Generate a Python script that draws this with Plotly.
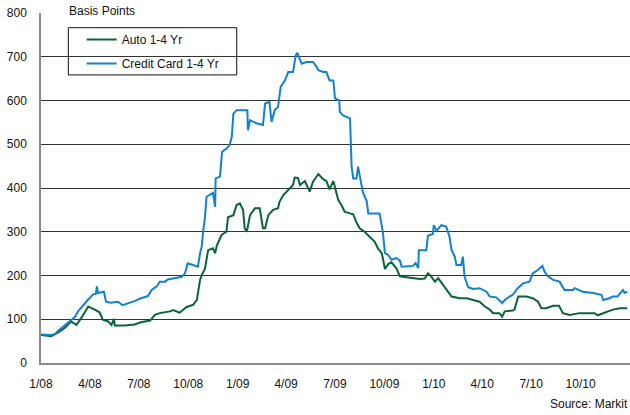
import pandas as pd
import plotly.graph_objects as go

START = "2008-01-01"

# Credit Card 1-4 Yr spread (basis points), days since START
cc_days = [0, 19, 26, 32, 45, 56, 63, 69, 78, 87, 97, 102, 104, 106, 117, 121, 130, 143, 152, 162,
           175, 186, 199, 206, 216, 221, 231, 236, 249, 262, 268, 273, 283, 292, 296, 299, 302, 305,
           308, 314, 320, 324, 325, 333, 337, 345, 351, 355, 358, 364, 376, 384, 385, 389, 401, 413,
           417, 425, 429, 435, 441, 446, 454, 460, 469, 474, 477, 485, 494, 506, 513, 516, 525, 531,
           537, 544, 547, 555, 556, 562, 575, 576, 578, 581, 587, 590, 593, 599, 606, 609, 630, 636,
           640, 646, 652, 661, 668, 671, 692, 697, 702, 703, 717, 720, 729, 731, 736, 745, 754, 760,
           764, 770, 773, 782, 785, 788, 795, 804, 816, 829, 835, 847, 858, 863, 872, 878, 887, 897,
           909, 915, 925, 933, 937, 943, 953, 965, 974, 990, 993, 1008, 1027, 1043, 1046, 1058, 1064,
           1073, 1083, 1086, 1091]
cc_vals = [65, 64, 66, 74, 87, 98, 105, 118, 132, 144, 157, 158, 175, 160, 163, 140, 138, 140, 132, 136,
           142, 148, 153, 167, 176, 186, 186, 191, 194, 197, 205, 228, 224, 220, 251, 266, 304, 331,
           380, 384, 389, 357, 422, 426, 483, 490, 498, 517, 570, 578, 578, 578, 532, 555, 548, 544,
           593, 597, 551, 578, 585, 631, 646, 665, 665, 703, 709, 684, 688, 688, 677, 669, 665, 665,
           646, 646, 605, 600, 574, 566, 559, 502, 449, 422, 422, 449, 426, 390, 370, 342, 342, 300,
           251, 247, 236, 240, 234, 220, 222, 228, 217, 258, 258, 291, 295, 315, 302, 315, 312, 289,
           258, 243, 224, 224, 243, 198, 173, 169, 171, 163, 152, 150, 137, 144, 152, 156, 171, 182,
           186, 205, 213, 222, 209, 198, 190, 186, 167, 167, 171, 163, 160, 156, 144, 148, 152,
           152, 167, 160, 163]

# Auto 1-4 Yr spread (basis points), days since START
auto_days = [0, 19, 32, 44, 56, 66, 75, 84, 88, 100, 109, 115, 125, 131, 136, 137, 156, 174, 186, 203,
             212, 221, 240, 246, 258, 271, 283, 290, 296, 299, 305, 311, 320, 324, 327, 336, 345, 348,
             358, 364, 370, 376, 379, 383, 389, 398, 407, 413, 417, 423, 432, 441, 444, 451, 460, 469,
             472, 478, 482, 491, 500, 506, 516, 525, 531, 537, 544, 550, 553, 559, 565, 575, 581, 587,
             593, 602, 612, 621, 627, 634, 636, 640, 646, 652, 661, 668, 680, 695, 705, 714, 720, 726,
             733, 739, 748, 754, 764, 779, 792, 804, 816, 826, 835, 841, 853, 858, 863, 878, 881, 888,
             903, 915, 925, 931, 940, 953, 964, 971, 984, 1002, 1021, 1030, 1036, 1046, 1064, 1077, 1091]
auto_vals = [64, 61, 70, 80, 95, 87, 103, 122, 129, 122, 116, 99, 95, 87, 101, 86, 86, 88, 93, 97,
             110, 114, 118, 121, 115, 128, 133, 144, 190, 201, 215, 258, 262, 251, 268, 293, 300, 333,
             338, 361, 365, 350, 308, 300, 338, 354, 354, 308, 308, 338, 350, 354, 369, 384, 395, 407,
             424, 423, 407, 416, 392, 414, 432, 420, 416, 397, 416, 390, 373, 361, 346, 342, 340, 321,
             308, 300, 289, 277, 262, 251, 240, 215, 226, 230, 217, 198, 196, 194, 192, 193, 205, 198,
             186, 194, 179, 171, 152, 148, 148, 144, 140, 129, 122, 114, 114, 106, 118, 120, 122, 152,
             152, 148, 140, 125, 125, 131, 131, 114, 110, 114, 114, 114, 109, 114, 122, 125, 125]

tick_dates = ["2008-01-01", "2008-04-01", "2008-07-01", "2008-10-01", "2009-01-01", "2009-04-01",
              "2009-07-01", "2009-10-01", "2010-01-01", "2010-04-01", "2010-07-01", "2010-10-01"]
tick_labels = ["1/08", "4/08", "7/08", "10/08", "1/09", "4/09", "7/09", "10/09", "1/10", "4/10",
               "7/10", "10/10"]
y_ticks = [0, 100, 200, 300, 400, 500, 600, 700, 800]

start = pd.Timestamp(START)
auto_x = start + pd.to_timedelta(auto_days, unit="D")
cc_x = start + pd.to_timedelta(cc_days, unit="D")

GREEN = "#0A643A"
BLUE = "#1282CE"
FONT = "Liberation Sans, Arial, sans-serif"

fig = go.Figure()
fig.add_trace(go.Scatter(x=auto_x, y=auto_vals, mode="lines", name="Auto 1-4 Yr",
                         line=dict(color=GREEN, width=2), legendgroup="a"))
fig.add_trace(go.Scatter(x=cc_x, y=cc_vals, mode="lines", name="Credit Card 1-4 Yr",
                         line=dict(color=BLUE, width=2), legendgroup="b"))

fig.update_layout(
    width=630, height=415,
    margin=dict(l=41, r=0, t=13, b=52),
    paper_bgcolor="white", plot_bgcolor="white",
    font=dict(family=FONT, size=12, color="#111111"),
    showlegend=True,
    legend=dict(x=0.069, y=0.966, xanchor="left", yanchor="top",
                bgcolor="rgba(0,0,0,0)", borderwidth=0,
                traceorder="grouped", tracegroupgap=5,
                font=dict(family=FONT, size=12, color="#111111")),
    xaxis=dict(type="date", range=["2008-01-01", "2011-01-01"],
               tickmode="array", tickvals=tick_dates, ticktext=tick_labels,
               showgrid=False, showline=True, linecolor="#8a8a8a", linewidth=1.5,
               ticks="", ticklabelstandoff=9, zeroline=False,
               tickfont=dict(family=FONT, size=12, color="#111111")),
    yaxis=dict(range=[0, 800], tickmode="array", tickvals=y_ticks,
               showgrid=True, gridcolor="#333333", gridwidth=1,
               showline=True, linecolor="#8a8a8a", linewidth=1.5,
               ticks="", ticklabelstandoff=10, zeroline=False,
               tickfont=dict(family=FONT, size=12, color="#111111")),
    shapes=[dict(type="rect", xref="paper", yref="paper",
                 x0=0.0464, x1=0.3323, y0=0.823, y1=0.958,
                 line=dict(color="#111111", width=1), fillcolor="rgba(0,0,0,0)")],
    annotations=[
        dict(text="Basis Points", xref="paper", yref="paper", x=0.0379, y=1.0,
             xanchor="left", yanchor="middle", showarrow=False, yshift=2,
             bgcolor="white", borderpad=5, borderwidth=1, bordercolor="white",
             font=dict(family=FONT, size=12, color="#111111")),
        dict(text="Source: Markit", xref="paper", yref="paper", x=1.0, y=-0.118,
             xanchor="right", yanchor="middle", showarrow=False,
             font=dict(family=FONT, size=12, color="#111111")),
    ],
)

fig.write_html("out.html", config={"displayModeBar": False},
               post_script="document.body.style.margin='0';document.body.style.overflow='hidden';")
